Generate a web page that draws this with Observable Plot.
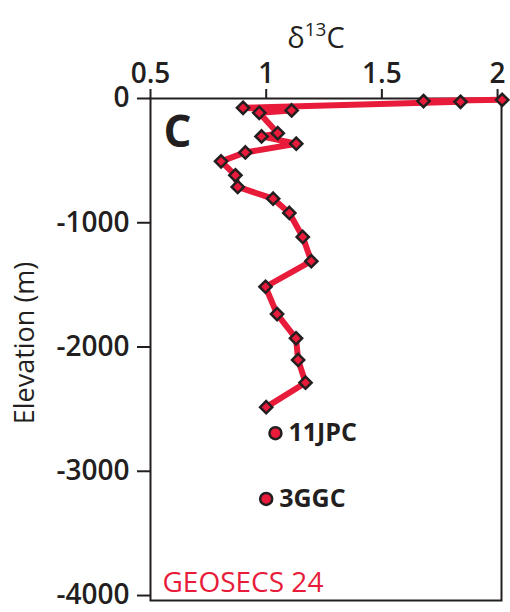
<!DOCTYPE html>
<html>
<head>
<meta charset="utf-8">
<script src="https://cdn.jsdelivr.net/npm/d3@7"></script>
<script src="https://cdn.jsdelivr.net/npm/@observablehq/plot@0.6"></script>
<style>
  html, body { margin: 0; padding: 0; background: #fff; }
  #chart { width: 510px; height: 612px; }
</style>
</head>
<body>
<div id="chart"></div>
<script>
// GEOSECS 24 profile (depth-ordered)
const elevation = [-11, -21, -27, -75, -96, -115, -279, -305, -364, -434, -506, -618, -712, -806, -921, -1114, -1309, -1515, -1735, -1930, -2104, -2287, -2484];
const d13C      = [2.02, 1.68, 1.84, 0.90, 1.11, 0.97, 1.05, 0.98, 1.13, 0.91, 0.805, 0.867, 0.877, 1.03, 1.10, 1.158, 1.195, 0.997, 1.047, 1.129, 1.138, 1.170, 1.0];
// core sites
const coreNames = ["11JPC", "3GGC"];
const coreElevation = [-2693, -3223];
const coreD13C = [1.04, 1.0];
// ticks
const xTicks = [0.5, 1, 1.5, 2];
const yTicks = [0, -1000, -2000, -3000, -4000];

const red = "#e81c3a";
const dark = "#231f20";

const profile = elevation.map((e, i) => ({elev: e, d: d13C[i]}));
const cores = coreNames.map((n, i) => ({name: n, elev: coreElevation[i], d: coreD13C[i]}));

const chart = Plot.plot({
  width: 510,
  height: 612,
  marginLeft: 150,
  marginRight: 9,
  marginTop: 98,
  marginBottom: 12,
  x: {domain: [0.5, 2.017]},
  y: {domain: [-4040, 0]},
  style: {fontFamily: "'Open Sans', sans-serif", color: dark, background: "#fff"},
  marks: [
    Plot.axisX({anchor: "top", ticks: xTicks, tickSize: 10, tickPadding: 6, strokeWidth: 2, label: null,
      tickFormat: d => String(d), fontSize: 28, fontWeight: 600}),
    Plot.axisY({anchor: "left", ticks: yTicks, tickSize: 13, tickPadding: 8, strokeWidth: 2, label: null,
      tickFormat: d => String(d), fontSize: 28, fontWeight: 600}),
    Plot.frame({stroke: dark, strokeWidth: 2}),
    Plot.line(profile, {x: "d", y: "elev", stroke: red, strokeWidth: 6, strokeLinejoin: "round"}),
    Plot.dot(profile, {x: "d", y: "elev", symbol: "diamond2", r: 5.5, fill: red, stroke: dark, strokeWidth: 2.5}),
    Plot.dot(cores, {x: "d", y: "elev", r: 6, fill: red, stroke: dark, strokeWidth: 2.5}),
    Plot.text(cores, {x: "d", y: "elev", text: "name", dx: 13, textAnchor: "start", fontSize: 25, fontWeight: 700, fill: dark, letterSpacing: "-1px"}),
    Plot.text(["C"], {frameAnchor: "top-left", dx: 13, dy: 17, fontSize: 44, fontWeight: 700, fill: dark}),
    Plot.text(["GEOSECS 24"], {frameAnchor: "bottom-left", dx: 12, dy: -9, fontSize: 28, fontWeight: 400, fill: red})
  ]
});

const svg = d3.select(chart);
const xl = svg.append("text")
  .attr("x", 316).attr("y", 48)
  .attr("text-anchor", "middle")
  .attr("fill", dark)
  .style("font-family", "'Open Sans', sans-serif")
  .style("font-size", "29px");
xl.append("tspan").text("δ");
xl.append("tspan").attr("dy", -12).style("font-size", "19px").text("13");
xl.append("tspan").attr("dy", 12).text("C");

svg.append("text")
  .attr("transform", "translate(34,343) rotate(-90)")
  .attr("text-anchor", "middle")
  .attr("fill", dark)
  .style("font-family", "'Open Sans', sans-serif")
  .style("font-size", "27px")
  .text("Elevation (m)");

document.getElementById("chart").appendChild(chart);
</script>
</body>
</html>
